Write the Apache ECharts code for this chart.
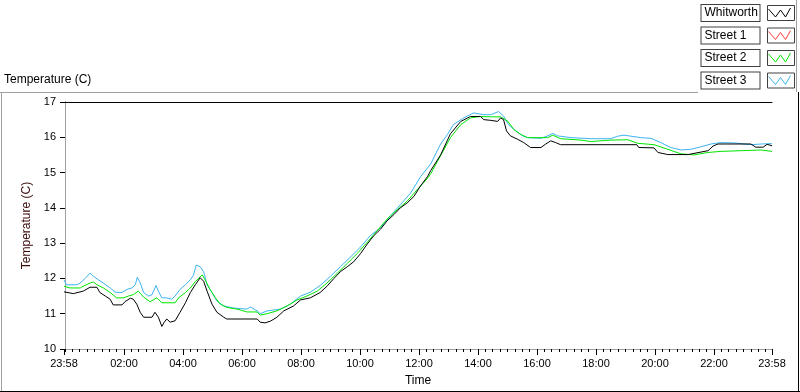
<!DOCTYPE html>
<html>
<head>
<meta charset="utf-8">
<script src="https://cdn.jsdelivr.net/npm/echarts@6/dist/echarts.min.js"></script>
<style>
  html, body { margin: 0; padding: 0; background: #fff; }
  #chart { width: 800px; height: 392px; }
</style>
</head>
<body>
<div id="chart"></div>
<script>
// time is minutes from midnight, -2 = 23:58 the evening before
var timeMin = -2;
var timeMax = 1438;
var majorTicks = [-2, 120, 240, 360, 480, 600, 720, 840, 960, 1080, 1200, 1320, 1438];
var minorTicks = [];
for (var m = 0; m < 1440; m += 15) minorTicks.push(m);

var seriesNames = ['Whitworth', 'Street 1', 'Street 2', 'Street 3'];
var seriesColors = ['#000000', '#ff3c3c', '#00e600', '#3cb4f0'];

var whitworth = [
  [-2, 11.62], [17, 11.57], [37, 11.64], [51, 11.75], [65, 11.75], [71, 11.60], [82, 11.50], [92, 11.41],
  [98, 11.25], [116, 11.25], [122, 11.34], [133, 11.44], [139, 11.41], [146, 11.27], [153, 11.04], [160, 10.90],
  [177, 10.90], [183, 11.04], [190, 10.90], [197, 10.64], [202, 10.76], [207, 10.85], [214, 10.76], [224, 10.80],
  [234, 11.04], [245, 11.31], [255, 11.60], [265, 11.82], [275, 12.02], [282, 11.92], [289, 11.64], [299, 11.27],
  [309, 11.04], [323, 10.90], [329, 10.85], [391, 10.85], [397, 10.76], [407, 10.74], [418, 10.79], [431, 10.90],
  [445, 11.08], [465, 11.22], [479, 11.39], [499, 11.45], [519, 11.60], [533, 11.78], [547, 12.00], [560, 12.19],
  [574, 12.33], [587, 12.47], [601, 12.70], [615, 12.98], [628, 13.21], [642, 13.40], [655, 13.63], [669, 13.81],
  [682, 14.00], [696, 14.14], [710, 14.33], [723, 14.62], [737, 14.88], [744, 15.06], [764, 15.50], [784, 16.10],
  [805, 16.45], [825, 16.59], [845, 16.59], [852, 16.50], [866, 16.48], [880, 16.45], [886, 16.55], [892, 16.50],
  [898, 16.18], [906, 16.04], [921, 15.94], [933, 15.85], [947, 15.71], [968, 15.71], [978, 15.81], [988, 15.90],
  [998, 15.85], [1008, 15.79], [1163, 15.79], [1167, 15.71], [1198, 15.70], [1206, 15.57], [1226, 15.51], [1267, 15.51],
  [1308, 15.62], [1318, 15.75], [1328, 15.81], [1395, 15.81], [1405, 15.72], [1420, 15.72], [1428, 15.80], [1438, 15.76]
];

// Street 1 is not visible anywhere in the plot
var street1 = [];

var street2 = [
  [-2, 11.78], [10, 11.73], [31, 11.73], [37, 11.78], [51, 11.87], [58, 11.90], [65, 11.82], [78, 11.73],
  [92, 11.60], [105, 11.45], [119, 11.45], [129, 11.50], [139, 11.54], [149, 11.64], [160, 11.47], [173, 11.34],
  [187, 11.45], [197, 11.31], [224, 11.31], [231, 11.45], [245, 11.60], [255, 11.73], [265, 11.91], [279, 12.10],
  [285, 11.96], [295, 11.69], [306, 11.45], [316, 11.27], [329, 11.18], [350, 11.13], [370, 11.05], [391, 11.05],
  [397, 10.96], [411, 11.00], [431, 11.08], [452, 11.22], [472, 11.39], [492, 11.50], [513, 11.64], [533, 11.87],
  [554, 12.15], [574, 12.42], [594, 12.70], [615, 13.03], [635, 13.35], [655, 13.68], [676, 13.95], [696, 14.19],
  [716, 14.51], [737, 14.83], [744, 14.97], [764, 15.48], [784, 15.99], [805, 16.36], [825, 16.55], [845, 16.59],
  [866, 16.58], [886, 16.58], [901, 16.45], [913, 16.22], [927, 16.08], [941, 15.99], [982, 15.99], [992, 16.06],
  [1008, 15.96], [1049, 15.92], [1070, 15.88], [1110, 15.92], [1145, 15.93], [1165, 15.83], [1198, 15.79], [1226, 15.66],
  [1253, 15.53], [1279, 15.50], [1308, 15.57], [1334, 15.60], [1375, 15.62], [1416, 15.64], [1438, 15.60]
];

var street3 = [
  [-2, 11.96], [3, 11.82], [24, 11.82], [31, 11.87], [41, 12.00], [51, 12.15], [58, 12.06], [68, 11.96],
  [78, 11.87], [92, 11.73], [102, 11.61], [116, 11.60], [126, 11.69], [136, 11.73], [143, 11.82], [147, 12.03],
  [153, 11.87], [160, 11.60], [170, 11.50], [177, 11.54], [185, 11.80], [190, 11.64], [197, 11.45], [207, 11.45],
  [217, 11.41], [224, 11.50], [234, 11.69], [245, 11.82], [255, 11.96], [261, 12.08], [267, 12.38], [275, 12.33],
  [282, 12.19], [289, 11.82], [299, 11.60], [309, 11.36], [323, 11.22], [343, 11.16], [370, 11.13], [377, 11.19],
  [391, 11.08], [397, 11.00], [411, 11.08], [438, 11.13], [458, 11.27], [479, 11.50], [499, 11.61], [519, 11.80],
  [540, 12.06], [560, 12.33], [581, 12.61], [601, 12.89], [621, 13.21], [642, 13.44], [662, 13.77], [682, 14.09],
  [703, 14.42], [723, 14.88], [744, 15.25], [764, 15.81], [778, 16.08], [790, 16.36], [811, 16.55], [831, 16.69],
  [852, 16.64], [866, 16.64], [882, 16.73], [892, 16.60], [902, 16.36], [917, 16.18], [931, 16.04], [941, 15.99],
  [968, 15.97], [982, 16.04], [992, 16.11], [1002, 16.04], [1029, 15.99], [1070, 15.96], [1110, 15.96], [1124, 16.03],
  [1137, 16.06], [1171, 15.99], [1192, 15.97], [1212, 15.85], [1232, 15.71], [1253, 15.64], [1273, 15.66], [1293, 15.73],
  [1314, 15.81], [1334, 15.85], [1361, 15.84], [1395, 15.79], [1416, 15.81], [1438, 15.82]
];

var tempTicks = [10, 11, 12, 13, 14, 15, 16, 17];

var font = 'Liberation Sans';

function fmtTime(v) {
  var t = Math.round((v + 1440) % 1440);
  var h = Math.floor(t / 60), mm = t % 60;
  return (h < 10 ? '0' : '') + h + ':' + (mm < 10 ? '0' : '') + mm;
}

// zigzag icon, the two leading moves only fix its box to 28x16
var iconPath = 'path://M0,0M28,16M4,4L11,12L16,5L21,12L26,3';

var chart = echarts.init(document.getElementById('chart'));
var option = {
  animation: false,
  backgroundColor: '#fff',
  title: {
    text: 'Temperature (C)',
    left: 4, top: 74, padding: 0,
    textStyle: { fontFamily: font, fontSize: 12, fontWeight: 'normal', color: '#000' }
  },
  legend: {
    orient: 'vertical', right: 5, top: 2.5, padding: 0,
    align: 'right',
    itemWidth: 28, itemHeight: 16, itemGap: 1.5,
    selectedMode: false,
    formatter: function (name) { return '{n|' + name + '}'; },
    textStyle: {
      rich: {
        n: {
          fontFamily: font, fontSize: 12, color: '#000', width: 52, height: 14, lineHeight: 14,
          align: 'left', padding: [1, 3, 1, 3],
          borderColor: '#404040', borderWidth: 1, backgroundColor: '#fff'
        }
      }
    },
    data: seriesNames.map(function (n, i) {
      return { name: n, icon: iconPath, itemStyle: { color: 'none', borderColor: seriesColors[i], borderWidth: 1 } };
    })
  },
  grid: { left: 64, right: 28, top: 102, bottom: 39 },
  xAxis: [
    {
      type: 'value', min: timeMin, max: timeMax, position: 'bottom',
      name: 'Time', nameLocation: 'middle', nameGap: 26,
      nameTextStyle: { fontFamily: font, fontSize: 12, color: '#000' },
      axisLine: { show: true, lineStyle: { color: '#a0a0a0' } },
      axisTick: { show: true, length: 6, customValues: majorTicks, lineStyle: { color: '#000' } },
      axisLabel: { customValues: majorTicks, formatter: fmtTime, fontFamily: font, fontSize: 11, color: '#000', margin: 9 },
      splitLine: { show: false }
    },
    {
      type: 'value', min: timeMin, max: timeMax, position: 'bottom',
      axisLine: { show: false },
      axisTick: { show: true, length: 3, customValues: minorTicks, lineStyle: { color: '#000' } },
      axisLabel: { show: false },
      splitLine: { show: false }
    },
    {
      type: 'value', min: timeMin, max: timeMax, position: 'top',
      axisLine: { show: true, lineStyle: { color: '#000' } },
      axisTick: { show: false }, axisLabel: { show: false }, splitLine: { show: false }
    }
  ],
  yAxis: [
    {
      type: 'value', min: tempTicks[0], max: tempTicks[tempTicks.length - 1], interval: 1,
      name: 'Temperature (C)', nameLocation: 'middle', nameGap: 23,
      nameTextStyle: { fontFamily: font, fontSize: 12, color: '#3a0a0a' },
      axisLine: { show: true, lineStyle: { color: '#000' } },
      axisTick: { show: true, length: 5, lineStyle: { color: '#000' } },
      axisLabel: { fontFamily: font, fontSize: 11, color: '#000', margin: 8 },
      splitLine: { show: false }
    },
    {
      type: 'value', min: tempTicks[0], max: tempTicks[tempTicks.length - 1], position: 'right',
      axisLine: { show: true, lineStyle: { color: '#a0a0a0' } },
      axisTick: { show: false }, axisLabel: { show: false }, splitLine: { show: false }
    }
  ],
  series: [
    { name: 'Whitworth', type: 'line', data: whitworth, z: 5 },
    { name: 'Street 1', type: 'line', data: street1, z: 4 },
    { name: 'Street 2', type: 'line', data: street2, z: 3 },
    { name: 'Street 3', type: 'line', data: street3, z: 2 }
  ].map(function (s, i) {
    s.showSymbol = false;
    s.symbol = 'none';
    s.color = seriesColors[i];
    s.lineStyle = { width: 1, color: seriesColors[i] };
    return s;
  }),
  graphic: [
    { type: 'line', shape: { x1: 0, y1: 92.5, x2: 698, y2: 92.5 }, style: { stroke: '#a0a0a0', lineWidth: 1 } },
    { type: 'line', shape: { x1: 1.5, y1: 92, x2: 1.5, y2: 391 }, style: { stroke: '#a0a0a0', lineWidth: 1 } },
    { type: 'line', shape: { x1: 0, y1: 391.5, x2: 800, y2: 391.5 }, style: { stroke: '#000', lineWidth: 1 } },
    { type: 'line', shape: { x1: 796.5, y1: 0, x2: 796.5, y2: 92 }, style: { stroke: '#a0a0a0', lineWidth: 1 } },
    { type: 'line', shape: { x1: 798.5, y1: 92, x2: 798.5, y2: 392 }, style: { stroke: '#000', lineWidth: 1 } }
  ].concat(seriesNames.map(function (n, i) {
    return {
      type: 'rect', z: -1,
      shape: { x: 767.5, y: 5.5 + i * 22.5, width: 27, height: 15 },
      style: { fill: 'none', stroke: '#404040', lineWidth: 1 }
    };
  }))
};
chart.setOption(option);
</script>
</body>
</html>
